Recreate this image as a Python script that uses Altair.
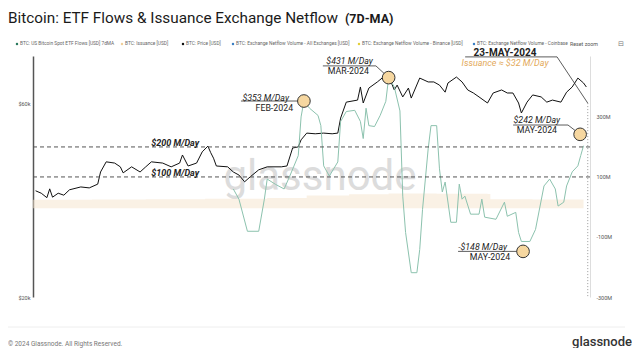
import altair as alt
import pandas as pd

# ---------------- data ----------------
price_dates = [
    "2023-11-11", "2023-11-13", "2023-11-15", "2023-11-16", "2023-11-17", "2023-11-19",
    "2023-11-21", "2023-11-23", "2023-11-27", "2023-11-30", "2023-12-03", "2023-12-04",
    "2023-12-06", "2023-12-09", "2023-12-11", "2023-12-12", "2023-12-15", "2023-12-18",
    "2023-12-20", "2023-12-22", "2023-12-26", "2023-12-29", "2024-01-01", "2024-01-02",
    "2024-01-04", "2024-01-07", "2024-01-09", "2024-01-11", "2024-01-12", "2024-01-13",
    "2024-01-14", "2024-01-18", "2024-01-20", "2024-01-22", "2024-01-24", "2024-01-26",
    "2024-01-29", "2024-02-01", "2024-02-06", "2024-02-08", "2024-02-10", "2024-02-12",
    "2024-02-13", "2024-02-15", "2024-02-18", "2024-02-21", "2024-02-24", "2024-02-26",
    "2024-02-27", "2024-02-29", "2024-03-04", "2024-03-05", "2024-03-06", "2024-03-08",
    "2024-03-11", "2024-03-14", "2024-03-16", "2024-03-17", "2024-03-18", "2024-03-20",
    "2024-03-22", "2024-03-23", "2024-03-26", "2024-03-29", "2024-03-31", "2024-04-02",
    "2024-04-04", "2024-04-05", "2024-04-08", "2024-04-10", "2024-04-12", "2024-04-14",
    "2024-04-16", "2024-04-19", "2024-04-21", "2024-04-24", "2024-04-26", "2024-04-28",
    "2024-04-30", "2024-05-01", "2024-05-03", "2024-05-05", "2024-05-08", "2024-05-10",
    "2024-05-12", "2024-05-15", "2024-05-17", "2024-05-19", "2024-05-21", "2024-05-23",
    "2024-05-24",
]
price_usd = [
    36500, 36000, 35100, 36900, 35200, 36000,
    35600, 36700, 37300, 37100, 37900, 40600,
    43000, 42700, 41800, 40400, 41800, 40600,
    41800, 43000, 42700, 41800, 42700, 44700,
    42000, 42700, 45500, 47000, 45300, 43900,
    42000, 41800, 40600, 39900, 38400, 39500,
    41100, 41800, 41800, 42000, 46500, 46800,
    48700, 50600, 50400, 50600, 50400, 50600,
    55100, 60300, 61000, 65700, 60000, 65300,
    67600, 70300, 67200, 64600, 66400, 62100,
    65300, 61700, 69100, 67600, 67600, 66400,
    63800, 67200, 69500, 67600, 64600, 63500,
    62100, 60000, 63500, 64600, 63500, 63500,
    60000, 56700, 60300, 62800, 62100, 60300,
    61000, 60300, 63800, 65700, 69100, 67200,
    65700,
]

etf_dates = [
    "2024-01-20", "2024-01-22", "2024-01-25", "2024-01-29", "2024-01-31", "2024-02-01",
    "2024-02-04", "2024-02-07", "2024-02-09", "2024-02-12", "2024-02-13", "2024-02-14",
    "2024-02-16", "2024-02-19", "2024-02-20", "2024-02-21", "2024-02-23", "2024-02-26",
    "2024-02-27", "2024-02-29", "2024-03-03", "2024-03-05", "2024-03-06", "2024-03-07",
    "2024-03-08", "2024-03-10", "2024-03-12", "2024-03-14", "2024-03-15", "2024-03-17",
    "2024-03-19", "2024-03-20", "2024-03-21", "2024-03-23", "2024-03-25", "2024-03-26",
    "2024-03-27", "2024-03-28", "2024-03-29", "2024-03-30", "2024-04-01", "2024-04-02",
    "2024-04-03", "2024-04-04", "2024-04-06", "2024-04-08", "2024-04-09", "2024-04-10",
    "2024-04-11", "2024-04-13", "2024-04-16", "2024-04-17", "2024-04-18", "2024-04-22",
    "2024-04-25", "2024-04-26", "2024-04-29", "2024-04-30", "2024-05-01", "2024-05-04",
    "2024-05-06", "2024-05-09", "2024-05-11", "2024-05-13", "2024-05-14", "2024-05-16",
    "2024-05-17", "2024-05-19", "2024-05-21", "2024-05-22", "2024-05-23",
]
etf_flow_m = [
    60, 26, -81, -81, 26, 93,
    75, 60, 103, 171, 300, 353,
    329, 305, 271, 137, 103, 150,
    285, 318, 322, 285, 228, 329,
    271, 268, 305, 352, 431, 400,
    320, 36, -85, -219, -219, -142,
    -8, 93, 194, 271, 271, 127,
    50, 83, -51, -51, 76, 26,
    36, -24, -24, 26, -34, -41,
    16, -31, -18, -85, -115, -115,
    -75, 70, 93, 60, 3, 16,
    70, 117, 137, 171, 204,
]

issuance_dates = ["2023-11-10", "2023-12-01", "2023-12-20", "2024-01-10", "2024-02-01",
                  "2024-02-15", "2024-03-01", "2024-03-15", "2024-04-01", "2024-04-19",
                  "2024-04-20", "2024-05-05", "2024-05-23"]
issuance_m = [24, 25, 26, 27, 30, 38, 42, 45, 44, 43, 26, 25, 25]

x_tick_dates = [(2023, 11, 20), (2023, 12, 4), (2023, 12, 18), (2024, 1, 1), (2024, 1, 15),
                (2024, 1, 29), (2024, 2, 12), (2024, 2, 26), (2024, 3, 11), (2024, 3, 25),
                (2024, 4, 8), (2024, 4, 22), (2024, 5, 6), (2024, 5, 20)]
left_ticks = [20000, 60000]
right_ticks = [-300, -100, 100, 300]

threshold_values = [200, 100]
threshold_labels = ["$200 M/Day", "$100 M/Day"]
threshold_label_dates = ["2023-12-30T10:00:00", "2023-12-30T10:00:00"]
threshold_label_values = [213, 113]

callout_dates = ["2024-02-14T00:00:00", "2024-03-15T00:00:00", "2024-05-21T19:00:00", "2024-05-01T14:00:00"]
callout_values = [353, 431, 242, -148]
callout_labels = ["$353 M/Day", "$431 M/Day", "$242 M/Day", "-$148 M/Day"]
callout_label_dates = ["2024-02-08T17:00:00", "2024-03-09T10:00:00", "2024-05-14T17:00:00", "2024-04-25T22:00:00"]
callout_label_values = [363, 486, 290, -133]
callout_periods = ["FEB-2024", "MAR-2024", "MAY-2024", "MAY-2024"]
callout_period_dates = ["2024-02-10T04:00:00", "2024-03-08T00:00:00", "2024-05-13T15:00:00", "2024-04-27T00:00:00"]
callout_period_values = [330, 453, 256, -167]

# leader lines (group id, date, value in $M)
leader_group = ["a", "a", "b", "b", "b", "c", "c", "c", "d", "d", "e", "e", "e"]
leader_dates = ["2024-01-22T17:00:00", "2024-02-14T00:00:00",
                "2024-02-20T17:00:00", "2024-03-10T12:00:00", "2024-03-15T00:00:00",
                "2024-04-28T02:00:00", "2024-05-17T12:00:00", "2024-05-21T19:00:00",
                "2024-04-08T14:00:00", "2024-05-01T14:00:00",
                "2024-04-11T02:00:00", "2024-05-13T15:00:00", "2024-05-24T12:00:00"]
leader_values = [353, 353, 470, 470, 431, 273, 273, 242, -148, -148, 500, 500, 346]

marker_date = "2024-05-24T12:00:00"
marker_top = 346
marker_bottom = -300
marker_title = "23-MAY-2024"
marker_note = "Issuance \u2248 $32 M/Day"
marker_text_date = "2024-04-25T05:00:00"
marker_title_value = 512
marker_note_value = 480

title_main = "Bitcoin: ETF Flows & Issuance Exchange Netflow"
title_tag = "(7D-MA)"
legend_labels = ["BTC: US Bitcoin Spot ETF Flows [USD] 7dMA", "BTC: Issuance [USD]", "BTC: Price [USD]",
                 "BTC: Exchange Netflow Volume - All Exchanges [USD]",
                 "BTC: Exchange Netflow Volume - Binance [USD]",
                 "BTC: Exchange Netflow Volume - Coinbase"]
legend_colors = ["#2b7a5f", "#f0cf9a", "#111111", "#3b7fc4", "#e3cf3a", "#3b7fc4"]
legend_x = [-16, 89, 150, 200, 326, 441]
footer_text = "\u00a9 2024 Glassnode. All Rights Reserved."
logo_text = "glassnode"

# ---------------- tables ----------------
price_df = pd.DataFrame({"date": price_dates, "price": price_usd})
etf_df = pd.DataFrame({"date": etf_dates, "flow": etf_flow_m})
iss_df = pd.DataFrame({"date": issuance_dates, "iss": issuance_m})
thr_df = pd.DataFrame({"v": threshold_values})
thr_lab_df = pd.DataFrame({"date": threshold_label_dates, "v": threshold_label_values, "t": threshold_labels})
call_df = pd.DataFrame({"date": callout_dates, "v": callout_values})
call_lab_df = pd.DataFrame({"date": callout_label_dates, "v": callout_label_values, "t": callout_labels})
call_per_df = pd.DataFrame({"date": callout_period_dates, "v": callout_period_values, "t": callout_periods})
lead_df = pd.DataFrame({"g": leader_group, "date": leader_dates, "v": leader_values,
                        "o": list(range(len(leader_group)))})
mark_df = pd.DataFrame({"date": [marker_date], "v": [marker_top], "v2": [marker_bottom]})
mtitle_df = pd.DataFrame({"date": [marker_text_date], "v": [marker_title_value], "t": [marker_title]})
mnote_df = pd.DataFrame({"date": [marker_text_date], "v": [marker_note_value], "t": [marker_note]})
FONT = "Roboto"

xscale = alt.Scale(type="utc",
                   domain=[alt.DateTime(year=2023, month=11, date=10, hours=2, utc=True),
                           alt.DateTime(year=2024, month=5, date=25, hours=7, utc=True)])
xaxis = alt.Axis(values=[alt.DateTime(year=y, month=m, date=d, utc=True) for (y, m, d) in x_tick_dates],
                 format="%-d %b", labelFontSize=5.5, labelColor="#555", labelFont=FONT,
                 ticks=False, grid=False, domainColor="#e6e6e6", labelPadding=10, title=None)
lscale = alt.Scale(type="log", domain=[20000, 78300], nice=False)
rscale = alt.Scale(domain=[-300, 503], nice=False, zero=False)
raxis = alt.Axis(values=right_ticks, labelExpr="datum.value + 'M'", orient="right",
                 ticks=False, grid=False, domainColor="#dddddd",
                 labelFontSize=5.5, labelColor="#555", labelFont=FONT, labelPadding=6,
                 title=None)


def X(f="date"):
    return alt.X(f"{f}:T", scale=xscale, axis=None)


def Yr(f="v"):
    return alt.Y(f"{f}:Q", scale=rscale, axis=raxis)


price_line = alt.Chart(price_df).mark_line(color="#111111", strokeWidth=1).encode(
    x=alt.X("date:T", scale=xscale, axis=xaxis),
    y=alt.Y("price:Q", scale=lscale,
            axis=alt.Axis(values=left_ticks, labelExpr="'$' + (datum.value/1000) + 'k'",
                          ticks=False, grid=False, domainColor="#555", domainWidth=1.5,
                          labelFontSize=5.5, labelColor="#555", labelFont=FONT, labelPadding=3,
                          title=None)),
)

iss_area = alt.Chart(iss_df).mark_area(color="#f5e4cc", opacity=0.5, interpolate="step-after").encode(
    x=X(), y=Yr("iss"), y2=alt.datum(-4),
)
etf_line = alt.Chart(etf_df).mark_line(color="#8cc2ae", strokeWidth=1).encode(x=X(), y=Yr("flow"))
thr_rules = alt.Chart(thr_df).mark_rule(color="#555", strokeDash=[4, 3], strokeWidth=1).encode(y=Yr())
thr_text = alt.Chart(thr_lab_df).mark_text(font=FONT, fontSize=9, fontStyle="italic", fontWeight="bold",
                                          color="#222", align="center", baseline="middle").encode(
    x=X(), y=Yr(), text="t:N")
vmark = alt.Chart(mark_df).mark_rule(color="#9a9a9a", strokeDash=[1, 2], strokeWidth=1).encode(
    x=X(), y=Yr(), y2="v2:Q")
leaders = alt.Chart(lead_df).mark_line(color="#333", strokeWidth=0.8).encode(
    x=X(), y=Yr(), detail="g:N", order="o:Q")
circles = alt.Chart(call_df).mark_point(shape="circle", filled=True, size=160, fill="#f6d7a0",
                                        stroke="#333", strokeWidth=1, opacity=1).encode(x=X(), y=Yr())
call_lab = alt.Chart(call_lab_df).mark_text(font=FONT, fontSize=8.8, fontStyle="italic", color="#222",
                                           align="right", baseline="middle").encode(x=X(), y=Yr(), text="t:N")
call_per = alt.Chart(call_per_df).mark_text(font=FONT, fontSize=8.8, color="#222",
                                           align="right", baseline="middle").encode(x=X(), y=Yr(), text="t:N")
mtitle = alt.Chart(mtitle_df).mark_text(font=FONT, fontSize=10, fontWeight="bold", color="#222",
                                        align="center", baseline="middle").encode(x=X(), y=Yr(), text="t:N")
mnote = alt.Chart(mnote_df).mark_text(font=FONT, fontSize=9, fontStyle="italic", color="#e3a95a",
                                      align="center", baseline="middle").encode(x=X(), y=Yr(), text="t:N")

flows = alt.layer(iss_area, etf_line, thr_rules, thr_text, vmark, leaders, circles, call_lab, call_per,
                  mtitle, mnote)


# ---------------- decorations (title, legend, footer, watermark) ----------------
def deco(text, x, y, size, color="#222", weight="normal", align="left", baseline="alphabetic", style="normal"):
    return alt.Chart(pd.DataFrame({"t": [text]})).mark_text(
        font=FONT, fontSize=size, color=color, fontWeight=weight, align=align, baseline=baseline,
        fontStyle=style).encode(x=alt.value(x), y=alt.value(y), text="t:N")


watermark = deco("glassnode", 287, 134, 42, color="#dcdcdc", align="center")
decos = [
    deco(title_main, -25, -33, 15.3, color="#1a1a1a"),
    deco(title_tag, 312, -33, 12.5, color="#1a1a1a", weight="bold"),
    deco("Reset zoom", 537, -12, 5.3, color="#555", baseline="middle"),
    deco("\u229f", 585, -12, 7, color="#777", baseline="middle"),
    deco(footer_text, -25, 288, 6.5, color="#777", baseline="middle"),
    deco(logo_text, 599, 286, 13, color="#333", align="right", baseline="middle", weight=500),
]
leg_df = pd.DataFrame({"t": legend_labels, "c": legend_colors, "lx": legend_x})
leg_dots = alt.Chart(leg_df).mark_point(shape="circle", filled=True, size=6, opacity=1).encode(
    x=alt.X("lx:Q", scale=None), y=alt.value(-12), color=alt.Color("c:N", scale=None))
leg_text = alt.Chart(leg_df).mark_text(font=FONT, fontSize=4.8, color="#666", align="left",
                                       baseline="middle", dx=3).encode(
    x=alt.X("lx:Q", scale=None), y=alt.value(-12), text="t:N")
card_line = alt.Chart(pd.DataFrame({"a": [0]})).mark_rule(color="#eeeeee", strokeWidth=1).encode(
    x=alt.value(-25), x2=alt.value(592), y=alt.value(271))

chart = alt.layer(
    watermark,
    price_line,
    flows,
    alt.layer(*decos, leg_dots, leg_text, card_line),
).resolve_scale(y="independent").properties(
    width=557, height=241,
    padding={"left": 25, "top": 48, "right": 42, "bottom": 51},
    autosize=alt.AutoSizeParams(type="none"),
    background="#ffffff",
).configure_view(stroke=None)

chart.save("out.html", embed_options={"renderer": "svg", "actions": False})
